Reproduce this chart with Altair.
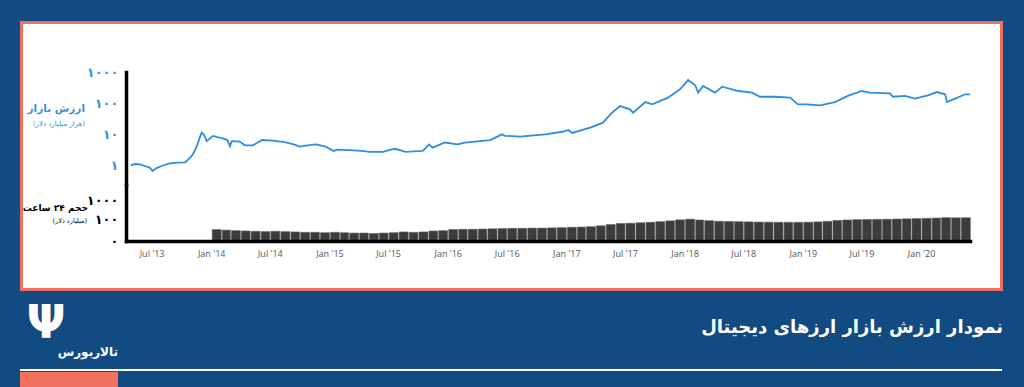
import altair as alt
import pandas as pd

# ---------------- data ----------------
mc_dates = [
    "2013-04-28", "2013-05-10", "2013-05-26", "2013-06-10", "2013-06-25", "2013-07-04",
    "2013-07-15", "2013-08-01", "2013-08-26", "2013-09-20", "2013-10-12", "2013-10-21",
    "2013-11-05", "2013-11-18", "2013-11-28", "2013-12-03", "2013-12-10", "2013-12-18",
    "2014-01-06", "2014-01-20", "2014-02-03", "2014-02-20", "2014-02-28", "2014-03-05",
    "2014-03-30", "2014-04-15", "2014-05-10", "2014-06-07", "2014-07-10", "2014-08-16",
    "2014-09-10", "2014-10-02", "2014-10-20", "2014-11-20", "2014-12-20", "2015-01-14",
    "2015-01-25", "2015-03-05", "2015-04-10", "2015-05-06", "2015-06-15", "2015-07-10",
    "2015-07-22", "2015-08-25", "2015-09-20", "2015-10-16", "2015-11-04", "2015-11-16",
    "2015-12-23", "2016-02-01", "2016-02-23", "2016-05-11", "2016-06-17", "2016-06-26",
    "2016-08-11", "2016-10-28", "2016-12-20", "2017-01-07", "2017-01-19", "2017-03-16",
    "2017-04-24", "2017-05-22", "2017-06-16", "2017-07-17", "2017-07-26", "2017-09-02",
    "2017-09-23", "2017-11-11", "2017-12-18", "2018-01-12", "2018-02-03", "2018-02-12",
    "2018-02-27", "2018-04-05", "2018-04-27", "2018-06-16", "2018-07-28", "2018-08-22",
    "2018-10-07", "2018-11-23", "2018-12-17", "2019-01-14", "2019-02-23", "2019-04-10",
    "2019-05-20", "2019-07-02", "2019-07-27", "2019-09-27", "2019-10-06", "2019-11-12",
    "2019-12-13", "2020-01-22", "2020-02-19", "2020-03-15", "2020-03-21", "2020-04-15",
    "2020-05-16", "2020-05-31",
]
mc_values = [
    1.0, 1.1, 1.07, 0.95, 0.85, 0.66,
    0.8, 0.95, 1.16, 1.22, 1.25, 1.5,
    2.2, 4.2, 8.5, 11.5, 9.5, 6.0,
    8.8, 8.0, 7.5, 6.5, 4.1, 6.0,
    5.8, 4.4, 4.4, 6.5, 6.2, 5.6,
    4.8, 4.0, 4.3, 4.7, 4.0, 2.9,
    3.2, 3.1, 2.9, 2.7, 2.7, 3.2,
    3.4, 2.7, 2.8, 2.9, 4.7, 3.7,
    5.4, 4.7, 5.4, 6.5, 9.9, 8.9,
    8.4, 9.9, 12, 13.7, 11, 16.3,
    23.5, 49, 80, 63, 49, 108,
    91, 150, 278, 550, 375, 218,
    355, 218, 337, 245, 218, 160,
    160, 150, 91, 91, 85, 108,
    170, 245, 218, 205, 160, 170,
    140, 178, 227, 192, 108, 140,
    192, 192,
]

vol_months = pd.date_range("2014-01-01", periods=77, freq="MS")
vol_values = [
    32, 30, 28, 27, 26, 25, 26, 25, 24, 23, 23, 22,          # 2014
    23, 22, 21, 21, 20, 21, 22, 24, 23, 24, 27, 28,          # 2015
    32, 33, 33, 34, 35, 36, 37, 37, 38, 38, 39, 40,          # 2016
    42, 43, 45, 50, 58, 66, 68, 72, 76, 82, 90, 102,         # 2017
    110, 100, 92, 86, 84, 82, 80, 78, 77, 76, 76, 76,        # 2018
    77, 80, 85, 95, 100, 104, 106, 108, 109, 112, 115, 118,  # 2019
    122, 126, 132, 130, 131,                                  # 2020
]
vol_floor = 8.17  # bottom of the volume scale (labelled ۰)

x_tick_years_months = [
    (2013, 7), (2014, 1), (2014, 7), (2015, 1), (2015, 7), (2016, 1), (2016, 7),
    (2017, 1), (2017, 7), (2018, 1), (2018, 7), (2019, 1), (2019, 7), (2020, 1),
]
cap_ticks = [1, 10, 100, 1000]
vol_ticks = [vol_floor, 100, 1000]

mc_df = pd.DataFrame({"date": pd.to_datetime(mc_dates), "cap": mc_values})
vol_df = pd.DataFrame({"month": vol_months, "vol": vol_values})
one = pd.DataFrame({"k": [0]})

# ---------------- style ----------------
BG = "#124b82"
SALMON = "#f1705f"
BLUE = "#2d8ee2"
LBLUE = "#3b8fd9"
FA = "DejaVu Sans"
W, H = 844, 169

xscale = alt.Scale(
    domain=[alt.DateTime(year=2013, month=4, date=13), alt.DateTime(year=2020, month=5, date=31)],
    nice=False,
)
xaxis = alt.Axis(
    title=None,
    values=[alt.DateTime(year=y, month=m, date=1) for y, m in x_tick_years_months],
    format="%b '%y",
    labelFont="Open Sans",
    labelFontSize=9,
    labelColor="#555555",
    labelPadding=8,
    tickSize=0,
    domainColor="black",
    domainWidth=3.5,
    domainCap="square",
    grid=False,
    labelFlush=False,
    zindex=1,
)


def yaxis(values, expr, color):
    return alt.Axis(
        orient="left",
        title=None,
        values=values,
        labelExpr=expr,
        labelFont=FA,
        labelFontSize=13,
        labelFontWeight="bold",
        labelColor=color,
        labelPadding=8,
        labelOverlap=False,
        tickSize=0,
        domainColor="black",
        domainWidth=3.5,
        domainCap="square",
        grid=False,
        zindex=1,
    )


def txt(text, x, y, size, color, weight="normal", align="right", font=FA):
    return alt.Chart(one).mark_text(
        text=text, font=font, fontSize=size, fontWeight=weight, color=color,
        align=align, baseline="middle",
    ).encode(x=alt.value(x), y=alt.value(y))


panel = alt.Chart(one).mark_rect(fill="white", stroke=SALMON, strokeWidth=3).encode(
    x=alt.value(-104.5), x2=alt.value(875.5), y=alt.value(-49.5), y2=alt.value(217.5)
)

line = alt.Chart(mc_df).mark_line(color=BLUE, strokeWidth=1.8).encode(
    x=alt.X("date:T", scale=xscale, axis=xaxis),
    y=alt.Y(
        "cap:Q",
        scale=alt.Scale(type="log", domain=[0.233, 1000], range=[113, 0], nice=False),
        axis=yaxis(cap_ticks,
                   "datum.value >= 1000 ? '۱۰۰۰' : datum.value >= 100 ? '۱۰۰' : datum.value >= 10 ? '۱۰' : '۱'",
                   LBLUE),
    ),
)

bars = alt.Chart(vol_df).mark_bar(color="#3c3c3c", stroke="#5e5e5e", strokeWidth=0.6).encode(
    x=alt.X("yearmonth(month):T", scale=xscale, axis=xaxis),
    y=alt.Y(
        "vol:Q",
        scale=alt.Scale(type="log", domain=[vol_floor, 6500], range=[169, 113], nice=False),
        axis=yaxis(vol_ticks,
                   "datum.value >= 1000 ? '۱۰۰۰' : datum.value >= 100 ? '۱۰۰' : '۰'",
                   "black"),
    ),
    y2=alt.datum(vol_floor),
)

footer_line = alt.Chart(one).mark_rule(color="white", strokeWidth=2).encode(
    x=alt.value(-106), x2=alt.value(876), y=alt.value(298)
)
footer_block = alt.Chart(one).mark_rect(color=SALMON).encode(
    x=alt.value(-106), x2=alt.value(-8), y=alt.value(300), y2=alt.value(316)
)

layers = [
    panel,
    bars,
    line,
    txt("ارزش بازار", -41, 37, 10.5, LBLUE, "bold"),
    txt("(هزار میلیارد دلار)", -41, 52, 7, LBLUE),
    txt("حجم ۲۴ ساعت", -38, 136, 9, "black", "bold"),
    txt("(میلیارد دلار)", -39, 149, 6.5, "black"),
    footer_line,
    footer_block,
    txt("نمودار ارزش بازار ارزهای دیجیتال", 877, 256, 18, "white", "bold"),
    txt("Ψ", -80, 252, 46, "white", "bold", "center"),
    txt("تالاربورس", -8, 280, 12, "white", "bold"),
]

chart = (
    alt.layer(*layers)
    .resolve_scale(y="independent")
    .properties(
        width=W,
        height=H,
        background=BG,
        padding={"left": 126, "top": 72, "right": 54, "bottom": 146},
        autosize=alt.AutoSizeParams(type="none"),
    )
    .configure_view(stroke=None)
)

chart.save("out.html", embed_options={"renderer": "svg", "actions": False})
